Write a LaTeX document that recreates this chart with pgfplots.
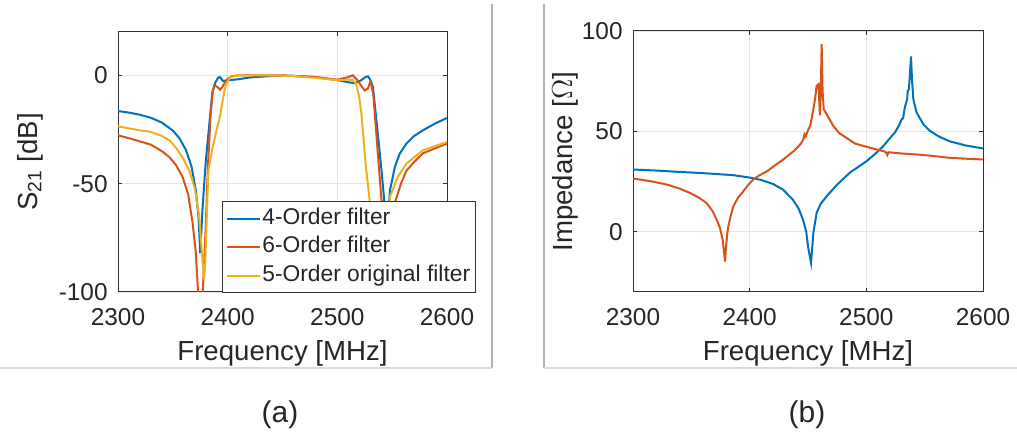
\documentclass[border=0pt]{standalone}
\usepackage{fontspec}
\setmainfont{Liberation Sans}
\usepackage{xcolor}
\usepackage{pgfplots}
\pgfplotsset{compat=1.18}

\definecolor{mblue}{rgb}{0,0.447,0.741}
\definecolor{morange}{rgb}{0.85,0.325,0.098}
\definecolor{myellow}{rgb}{0.929,0.694,0.125}
\definecolor{textgray}{rgb}{0.15,0.15,0.15}
\definecolor{axisgray}{rgb}{0.2,0.2,0.2}

\newcommand{\tickfont}{\fontsize{12.2}{14}\selectfont}
\newcommand{\labelfont}{\fontsize{13.8}{16}\selectfont}

\pgfplotsset{
  matlab/.style={
    scale only axis,
    anchor=south west,
    xmin=2300, xmax=2600,
    xtick={2300,2400,2500,2600},
    xticklabels={2300,2400,2500,2600},
    grid=major,
    major grid style={color=black!10, line width=0.4pt},
    axis line style={color=axisgray, line width=0.5pt},
    major tick length=2pt,
    tick style={color=axisgray, line width=0.5pt},
    tick align=inside,
    xticklabel style={font=\tickfont, text=textgray, anchor=center, inner sep=0pt, yshift=-12.5pt},
    yticklabel style={font=\tickfont, text=textgray, anchor=east, inner sep=0pt, xshift=-5pt},
    label style={font=\labelfont, text=textgray},
    every axis plot/.append style={line width=1pt},
  }
}

\begin{document}
\begin{tikzpicture}
\path[use as bounding box] (0,0) rectangle (508.5pt,219pt);

% panel frames
\draw[black!30, line width=0.6pt] (246pt,217pt) -- (246pt,35pt);
\draw[black!15, line width=0.6pt] (0pt,35pt) -- (246pt,35pt);
\draw[black!30, line width=0.6pt] (272pt,217pt) -- (272pt,35pt);
\draw[black!15, line width=0.6pt] (272pt,35pt) -- (508.5pt,35pt);

% (a) S21
\begin{axis}[matlab,
  at={(59pt,73pt)}, width=164.5pt, height=130pt,
  ymin=-100, ymax=20,
  ytick={-100,-50,0}, yticklabels={-100,-50,0},
  xlabel={Frequency [MHz]},
  ylabel={S\textsubscript{21} [dB]},
  xlabel style={at={(axis description cs:0.5,-0.2346)}, anchor=center},
  ylabel style={at={(axis description cs:-0.2675,0.5)}, anchor=center},
  legend cell align=left,
  legend image code/.code={\draw[#1, line width=1pt] (0pt,0pt) -- (16.5pt,0pt);},
  legend style={at={(axis description cs:0.316,-0.004)}, anchor=south west,
    draw=axisgray, fill=white, text=textgray,
    font=\fontsize{11.4}{13}\selectfont,
    inner xsep=2pt, inner ysep=1.7pt, row sep=0.65pt,
    nodes={inner xsep=0.5pt, inner ysep=1.5pt, text height=8.2pt, text depth=2.4pt}},
]
\addplot[mblue] coordinates {
(2300,-16.5) (2310,-17.2) (2320,-18.2) (2330,-19.6) (2340,-21.8) (2350,-25.5)
(2356,-29) (2362,-34.5) (2367,-42) (2371,-53) (2373.5,-66) (2375,-82)
(2377,-62) (2380,-40) (2383.9,-19) (2386,-8) (2388.5,-3.7) (2391,-1.2)
(2393,-0.8) (2395.7,-2.6) (2400,-2.3) (2410,-1.8) (2420,-1.0) (2440,-0.3)
(2460,-0.3) (2480,-0.8) (2500,-2.2) (2510,-3.2) (2516,-3.6) (2521,-2.5)
(2526,-0.7) (2528,-0.5) (2530,-2) (2532.5,-5.4) (2535.9,-22) (2540.5,-45)
(2543.5,-62) (2545.5,-70) (2548,-53) (2552.6,-42) (2557,-36) (2563,-31.5)
(2570,-28) (2578,-25.4) (2590,-22) (2600,-19.7)
};
\addlegendentry{4-Order filter}
\addplot[morange] coordinates {
(2300,-27.7) (2310,-29) (2320,-30.5) (2330,-32) (2340,-35) (2347,-37.8)
(2353,-41.5) (2359,-47) (2364,-55) (2368,-68) (2371,-82) (2373,-100)
(2374,-110) (2376,-110) (2377.5,-98) (2380,-70) (2382,-42) (2384.5,-18)
(2386.5,-7) (2388,-4.6) (2391,-5.5) (2393,-6.6) (2395,-5.5) (2397,-3.7)
(2400,-1.5) (2404,-0.4) (2410,0) (2450,0) (2480,-0.8) (2500,-2)
(2510,-0.8) (2514,0) (2518,-2) (2522,-5) (2525,-7) (2528,-6)
(2530,-3) (2531,-4) (2533,-10) (2536,-30) (2540,-56) (2543,-75)
(2547,-75) (2550,-62) (2553,-58) (2558,-50) (2563,-44) (2570,-40)
(2578,-36) (2590,-33.5) (2600,-31.5)
};
\addlegendentry{6-Order filter}
\addplot[myellow] coordinates {
(2300,-23.5) (2310,-24.5) (2320,-25.4) (2329,-26) (2340,-28) (2347,-30)
(2353,-33.5) (2359,-38) (2365,-44) (2370,-52) (2374,-65) (2377,-85)
(2378.5,-94) (2379.5,-88) (2380.5,-72) (2382.4,-44) (2386,-34) (2390,-25)
(2393,-19) (2396,-10) (2398,-5) (2402,-0.8) (2410,0) (2430,0)
(2460,-0.3) (2480,-1.2) (2500,-2.2) (2510,-2.0) (2514,-2.2) (2517,-3.7)
(2520,-10) (2522,-18) (2526,-42) (2530,-60) (2533,-80) (2540,-92)
(2545,-70) (2548,-56) (2555,-47) (2563,-40.7) (2578,-34.6) (2590,-32.5)
(2600,-30.8)
};
\addlegendentry{5-Order original filter}
\end{axis}

% (b) impedance
\begin{axis}[matlab,
  at={(316.5pt,73pt)}, width=175pt, height=130.5pt,
  ymin=-30, ymax=100,
  ytick={0,50,100}, yticklabels={0,50,100},
  xlabel={Frequency [MHz]},
  ylabel={Impedance [$\Omega$]},
  xlabel style={at={(axis description cs:0.5,-0.2337)}, anchor=center},
  ylabel style={at={(axis description cs:-0.194,0.5)}, anchor=center},
]
\addplot[mblue] coordinates {
(2300,31) (2320,30.5) (2340,29.8) (2360,29.2) (2385.7,28.2) (2400,27)
(2410,25.8) (2420,23.8) (2428.6,21) (2437,16) (2442,11.5) (2445.7,6)
(2448.5,0) (2450,-7.3) (2451.5,-12) (2452.6,-15.5) (2453.6,-8) (2454.6,-0.5)
(2457.4,9.5) (2461,14) (2466,17.7) (2475,23.5) (2486,29.5) (2500.3,35.2)
(2508,39) (2514.6,42.7) (2520,46.5) (2524.6,49.5) (2528,53) (2530.3,56)
(2531.5,56.5) (2533,62) (2535,66) (2535.4,70) (2536.5,71) (2537.5,80)
(2538.3,87.3) (2539.2,75) (2540.3,66) (2543,59.5) (2548.9,53.5) (2554.6,50.2)
(2562,47.5) (2571.7,45) (2585,43) (2600,41.5)
};
\addplot[morange] coordinates {
(2300,26.5) (2315,25.2) (2329,23.5) (2340,21.5) (2349,19.3) (2357,16.8)
(2363,14.3) (2368,10.5) (2371.7,6) (2374.5,2) (2376.9,-4) (2378,-10)
(2378.9,-14.8) (2379.8,-7) (2380.8,-1) (2381.7,2.7) (2384,8.5) (2386,12.7)
(2390,17) (2394.6,20.2) (2398,22.8) (2403,26) (2408,28) (2414.6,30)
(2421,32.8) (2428.8,36) (2433,38) (2437.4,40) (2441,42) (2444,44)
(2446,46) (2447,48.5) (2448,47.5) (2450.3,51) (2452,53) (2454.6,61)
(2456,66) (2457.4,72.7) (2459,73.5) (2460.2,58) (2461,70) (2461.7,93.5)
(2462.5,70) (2463.5,61) (2466,58.5) (2471.7,52.7) (2477,49) (2483,46.8)
(2490,44) (2500.3,42.3) (2510,40.8) (2514.6,40.2) (2517,39.5) (2518,38.2)
(2519,39.6) (2530,39) (2543,38.5) (2555,37.9) (2571.7,36.8) (2585,36.4)
(2600,36)
};
\end{axis}

\node[font=\fontsize{15}{18}\selectfont, text=textgray] at (140pt,11.5pt) {(a)};
\node[font=\fontsize{15}{18}\selectfont, text=textgray] at (403.5pt,11.5pt) {(b)};
\end{tikzpicture}
\end{document}
